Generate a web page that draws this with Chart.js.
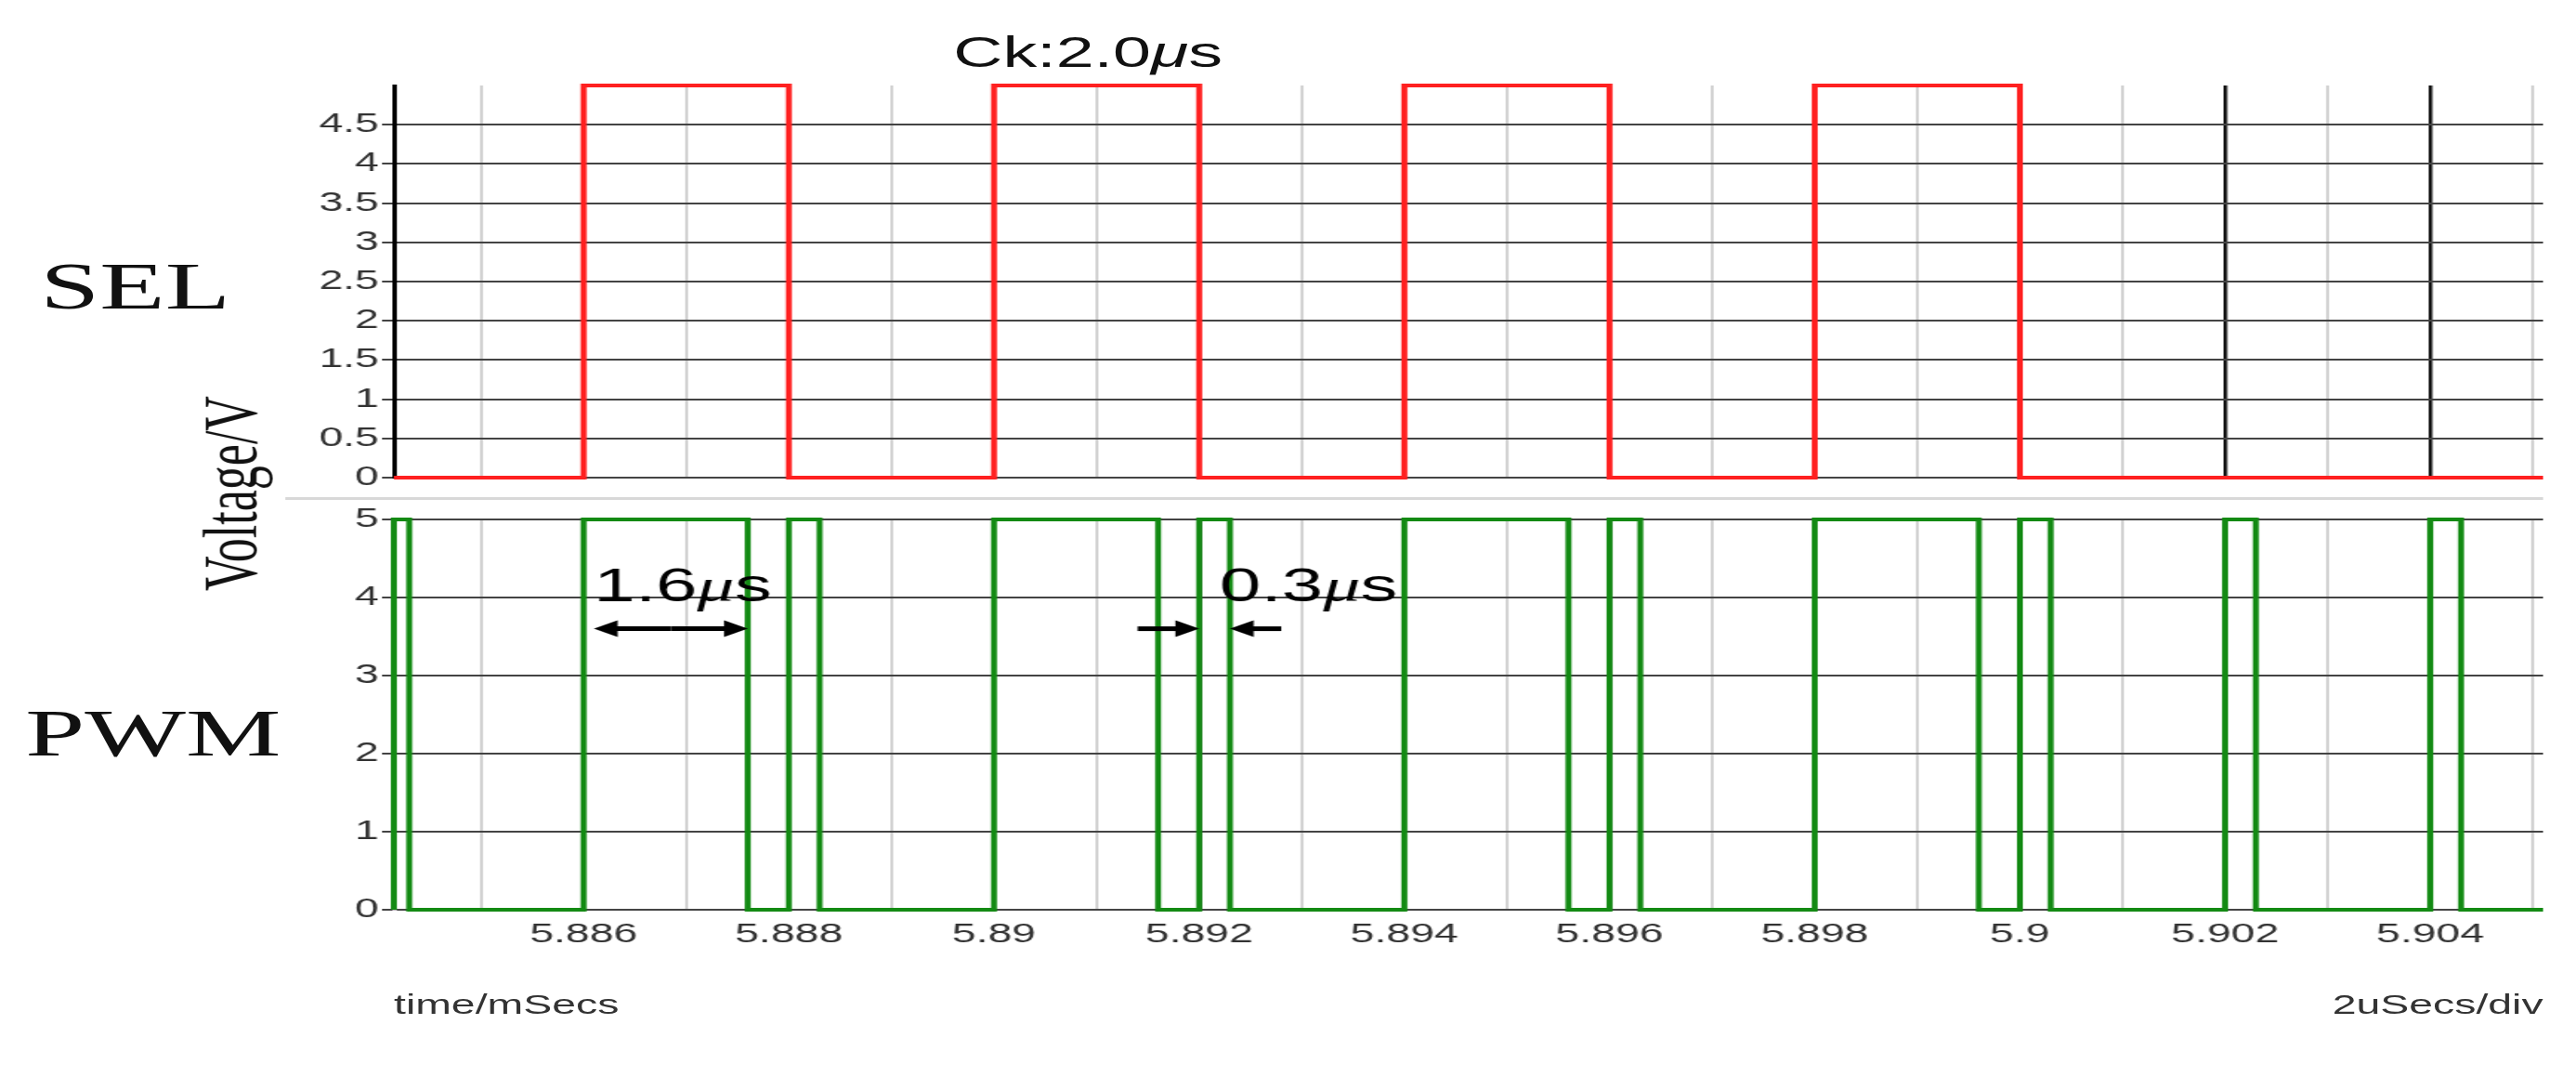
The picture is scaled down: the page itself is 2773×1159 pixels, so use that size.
<!DOCTYPE html>
<html>
<head>
<meta charset="utf-8">
<script src="https://cdn.jsdelivr.net/npm/chart.js@4/dist/chart.umd.min.js"></script>
<style>
  html, body { margin: 0; padding: 0; background: #fff; overflow: hidden; }
  #stage { position: absolute; left: 0; top: 0; width: 1733px; height: 1159px; transform: scaleX(1.6); transform-origin: 0 0; }
  #stage canvas { position: absolute; left: 0; top: 0; }
  .lbl { position: absolute; white-space: nowrap; line-height: 1; }
  .serif { font-family: "Liberation Serif", "DejaVu Serif", serif; color: #111; }
  .sans { font-family: "Liberation Sans", Arial, sans-serif; color: #222; }
</style>
</head>
<body>
<div id="stage">
  <canvas id="selChart" width="1733" height="1159"></canvas>
  <canvas id="pwmChart" width="1733" height="1159"></canvas>
  <div class="lbl sans" style="left:732px; top:56px; transform:translate(-50%,-50%); font-size:46px; color:#111;">Ck:2.0<i>μ</i>s</div>
  <div class="lbl serif" style="left:27px; top:308px; transform:translateY(-50%); font-size:72px;">SEL</div>
  <div class="lbl serif" style="left:17px; top:789px; transform:translateY(-50%); font-size:72px;">PWM</div>
  <div class="lbl serif" style="left:155px; top:531px; transform:translate(-50%,-50%) rotate(-90deg); font-size:52px;">Voltage/V</div>
  <div class="lbl sans" style="left:265px; top:1081px; transform:translateY(-50%); font-size:29px; color:#333;">time/mSecs</div>
  <div class="lbl sans" style="right:22px; top:1081px; transform:translateY(-50%); font-size:29px; color:#333;">2uSecs/div</div>
  <div style="position:absolute; left:192px; top:535px; width:1519px; height:3px; background:#d8d8d8;"></div>
</div>
<script>
// time axis in mSecs
const tStart = 5.88415;
const tEnd = 5.9051;

// SEL: toggles at these edges (starts low)
const selEdges = [5.886, 5.888, 5.890, 5.892, 5.894, 5.896, 5.898, 5.900];
const selHigh = 5;

// PWM pulses
const pwmRise = [5.88415, 5.886, 5.888, 5.890, 5.892, 5.894, 5.896, 5.898, 5.900, 5.902, 5.904];
const pwmFall = [5.8843, 5.8876, 5.8883, 5.8916, 5.8923, 5.8956, 5.8963, 5.8996, 5.9003, 5.9023, 5.9043];
const pwmHigh = 5;

const selTicks = [0, 0.5, 1, 1.5, 2, 2.5, 3, 3.5, 4, 4.5];
const pwmTicks = [0, 1, 2, 3, 4, 5];

// build square waves
const selPts = [{x: tStart, y: 0}];
let lvl = 0;
selEdges.forEach(t => {
    selPts.push({x: t, y: lvl});
    lvl = lvl ? 0 : selHigh;
    selPts.push({x: t, y: lvl});
});
selPts.push({x: tEnd, y: lvl});

const pwmPts = [];
pwmRise.forEach((t, i) => {
    pwmPts.push({x: t, y: 0}, {x: t, y: pwmHigh}, {x: pwmFall[i], y: pwmHigh}, {x: pwmFall[i], y: 0});
});
pwmPts.push({x: tEnd, y: 0});

const isMult = (v, n) => Math.abs(v * 1000 - Math.round(v * 1000)) < 1e-6 && Math.round(v * 1000) % n === 0;
const near = (v, t) => Math.abs(v - t) < 1e-7;

function xAxis(showLabels, cursors) {
    return {
        type: 'linear', min: tStart, max: tEnd,
        display: true,
        afterBuildTicks: s => {
            const ticks = [];
            for (let k = Math.ceil(tStart * 1000); k <= tEnd * 1000; k++) ticks.push({value: k / 1000});
            s.ticks = ticks;
        },
        afterFit: s => { s.height = showLabels ? 180 : 0; },
        border: { display: false },
        grid: {
            color: c => cursors.some(t => near(c.tick.value, t)) ? '#111' : '#d2d2d2',
            lineWidth: c => cursors.some(t => near(c.tick.value, t)) ? 2.5 : 2,
            drawTicks: false
        },
        ticks: {
            display: showLabels, padding: 10, autoSkip: false, maxRotation: 0,
            color: '#333', font: { family: 'Liberation Sans', size: 29 },
            callback: v => isMult(v, 2) ? String(Math.round(v * 1000) / 1000) : ''
        }
    };
}

function yAxis(ticks, max, axisColor) {
    return {
        min: 0, max: max,
        afterBuildTicks: s => { s.ticks = ticks.map(v => ({value: v})); },
        afterFit: s => { s.width = 265; },
        border: { display: true, color: axisColor, width: 3 },
        grid: { color: '#444', lineWidth: 2, tickLength: 8 },
        ticks: { color: '#333', padding: 2, font: { family: 'Liberation Sans', size: 29 },
                 callback: v => String(v) }
    };
}

// arrows and duration labels in the PWM pane
const notes = {
    id: 'notes',
    afterDraw(chart) {
        const {ctx, scales: {x, y}} = chart;
        const arrow = (x0, x1, yy) => {
            const dir = Math.sign(x1 - x0);
            ctx.beginPath(); ctx.moveTo(x0, yy); ctx.lineTo(x1 - dir * 14, yy); ctx.stroke();
            ctx.beginPath(); ctx.moveTo(x1, yy); ctx.lineTo(x1 - dir * 16, yy - 9); ctx.lineTo(x1 - dir * 16, yy + 9); ctx.closePath(); ctx.fill();
        };
        const label = (t, yv, num) => {
            let px = x.getPixelForValue(t);
            const py = y.getPixelForValue(yv);
            ctx.textBaseline = 'alphabetic';
            ctx.font = '50px "Liberation Sans"';
            ctx.fillText(num, px, py); px += ctx.measureText(num).width;
            ctx.font = 'italic 50px "Liberation Serif"';
            ctx.fillText('μ', px, py); px += ctx.measureText('μ').width;
            ctx.font = '50px "Liberation Sans"';
            ctx.fillText('s', px, py);
        };
        ctx.save();
        ctx.strokeStyle = '#000'; ctx.fillStyle = '#000'; ctx.lineWidth = 5;
        const ya = y.getPixelForValue(3.6);
        const a = x.getPixelForValue(5.8861), b = x.getPixelForValue(5.8876);
        arrow((a + b) / 2, a, ya); arrow((a + b) / 2, b, ya);
        arrow(x.getPixelForValue(5.8914), x.getPixelForValue(5.892), ya);
        arrow(x.getPixelForValue(5.8928), x.getPixelForValue(5.8923), ya);
        label(5.8861, 3.95, '1.6');
        label(5.8922, 3.95, '0.3');
        ctx.restore();
    }
};

Chart.defaults.devicePixelRatio = 1;

new Chart(document.getElementById('selChart'), {
    type: 'line',
    data: { datasets: [{ data: selPts, borderColor: '#ff2020', borderWidth: 4, pointRadius: 0, tension: 0, clip: false }] },
    options: {
        responsive: false, animation: false,
        layout: { padding: { top: 92, bottom: 1159 - 514, left: 0, right: 22 } },
        plugins: { legend: { display: false }, tooltip: { enabled: false } },
        scales: { x: xAxis(false, [5.902, 5.904]), y: yAxis(selTicks, 5, '#000') }
    }
});

new Chart(document.getElementById('pwmChart'), {
    type: 'line',
    data: { datasets: [{ data: pwmPts, borderColor: '#138a13', borderWidth: 4, pointRadius: 0, tension: 0, clip: false }] },
    options: {
        responsive: false, animation: false,
        layout: { padding: { top: 559, bottom: 0, left: 0, right: 22 } },
        plugins: { legend: { display: false }, tooltip: { enabled: false } },
        scales: { x: xAxis(true, [5.892, 5.896]), y: yAxis(pwmTicks, 5, '#bbb') }
    },
    plugins: [notes]
});
</script>
</body>
</html>
